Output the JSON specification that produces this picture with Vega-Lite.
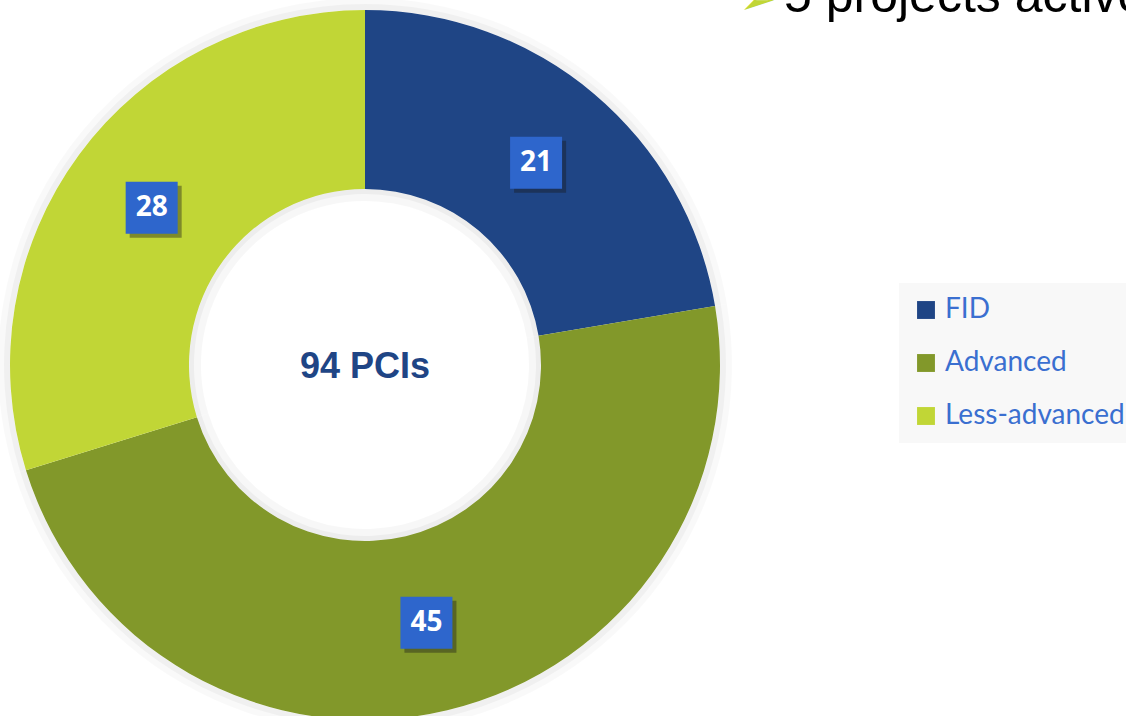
{
  "$schema": "https://vega.github.io/schema/vega-lite/v6.json",
  "width": 730,
  "height": 730,
  "autosize": {"type": "none"},
  "padding": {"left": 0, "top": 0, "right": 396, "bottom": 0},
  "background": "white",
  "config": {"view": {"stroke": null}},
  "data": {
    "values": [
      {"category": "FID", "v": 21, "order": 1},
      {"category": "Advanced", "v": 45, "order": 2},
      {"category": "Less-advanced", "v": 28, "order": 3}
    ]
  },
  "transform": [
    {"window": [{"op": "sum", "field": "v", "as": "cum"}], "sort": [{"field": "order"}], "frame": [null, 0]},
    {"joinaggregate": [{"op": "sum", "field": "v", "as": "total"}]},
    {"calculate": "(datum.cum - datum.v / 2) / datum.total * 2 * PI", "as": "mid"},
    {"calculate": "sin(datum.mid) * 0.726", "as": "lx"},
    {"calculate": "cos(datum.mid) * 0.726", "as": "ly"}
  ],
  "layer": [
    {
      "mark": {"type": "arc", "outerRadius": 367, "innerRadius": 355, "fill": "#000000", "opacity": 0.025},
      "encoding": {"theta": {"field": "v", "type": "quantitative", "stack": true}, "order": {"field": "order"}}
    },
    {
      "mark": {"type": "arc", "outerRadius": 361, "innerRadius": 355, "fill": "#000000", "opacity": 0.035},
      "encoding": {"theta": {"field": "v", "type": "quantitative", "stack": true}, "order": {"field": "order"}}
    },
    {
      "mark": {"type": "arc", "outerRadius": 355, "innerRadius": 176, "stroke": null},
      "encoding": {
        "theta": {"field": "v", "type": "quantitative", "stack": true},
        "order": {"field": "order"},
        "color": {
          "field": "category",
          "type": "nominal",
          "sort": ["FID", "Advanced", "Less-advanced"],
          "scale": {"domain": ["FID", "Advanced", "Less-advanced"], "range": ["#1F4585", "#82982A", "#C1D636"]},
          "legend": {
            "orient": "none",
            "legendX": 899,
            "legendY": 283,
            "title": null,
            "fillColor": "#F8F8F8",
            "padding": 13,
            "symbolType": "square",
            "symbolSize": 320,
            "symbolStrokeWidth": 0,
            "labelFont": "Lato",
            "labelFontSize": 28,
            "labelColor": "#3A6FD0",
            "labelOffset": 5,
            "rowPadding": 25,
            "labelLimit": 400
          }
        }
      }
    },
    {
      "mark": {"type": "arc", "outerRadius": 176, "innerRadius": 164, "fill": "#000000", "opacity": 0.03},
      "encoding": {"theta": {"field": "v", "type": "quantitative", "stack": true}, "order": {"field": "order"}}
    },
    {
      "mark": {"type": "arc", "outerRadius": 176, "innerRadius": 171, "fill": "#000000", "opacity": 0.04},
      "encoding": {"theta": {"field": "v", "type": "quantitative", "stack": true}, "order": {"field": "order"}}
    },
    {
      "mark": {"type": "point", "shape": "square", "size": 2704, "filled": true, "fill": "#1a1a1a", "opacity": 0.4, "strokeWidth": 0, "xOffset": 4, "yOffset": 4},
      "encoding": {
        "x": {"field": "lx", "type": "quantitative", "scale": {"domain": [-1, 1], "nice": false, "zero": false}, "axis": null},
        "y": {"field": "ly", "type": "quantitative", "scale": {"domain": [-1, 1], "nice": false, "zero": false}, "axis": null}
      }
    },
    {
      "mark": {"type": "point", "shape": "square", "size": 2704, "filled": true, "fill": "#2E66CC", "opacity": 1, "strokeWidth": 0},
      "encoding": {
        "x": {"field": "lx", "type": "quantitative"},
        "y": {"field": "ly", "type": "quantitative"}
      }
    },
    {
      "mark": {"type": "text", "font": "Open Sans", "fontWeight": "bold", "fontSize": 28, "color": "#FFFFFF", "align": "center", "baseline": "middle"},
      "encoding": {
        "x": {"field": "lx", "type": "quantitative"},
        "y": {"field": "ly", "type": "quantitative"},
        "text": {"field": "v", "type": "quantitative"}
      }
    },
    {
      "data": {"values": [{"label": "94 PCIs"}]},
      "mark": {"type": "text", "font": "Liberation Sans", "fontWeight": "bold", "fontSize": 36, "color": "#1F4585", "align": "center", "baseline": "middle", "dy": 2},
      "encoding": {
        "x": {"datum": 0, "type": "quantitative"},
        "y": {"datum": 0, "type": "quantitative"},
        "text": {"field": "label", "type": "nominal"}
      }
    },
    {
      "data": {"values": [{"label": "5 projects active"}]},
      "mark": {"type": "text", "font": "Liberation Sans", "fontSize": 50, "color": "#000000", "align": "left", "baseline": "alphabetic"},
      "encoding": {
        "x": {"datum": 1.148, "type": "quantitative"},
        "y": {"datum": 0.967, "type": "quantitative"},
        "text": {"field": "label", "type": "nominal"}
      }
    },
    {
      "data": {"values": [{"label": "➢"}]},
      "mark": {"type": "text", "font": "DejaVu Sans", "fontSize": 44, "color": "#C1D636", "align": "left", "baseline": "alphabetic"},
      "encoding": {
        "x": {"datum": 1.025, "type": "quantitative"},
        "y": {"datum": 0.962, "type": "quantitative"},
        "text": {"field": "label", "type": "nominal"}
      }
    }
  ]
}
